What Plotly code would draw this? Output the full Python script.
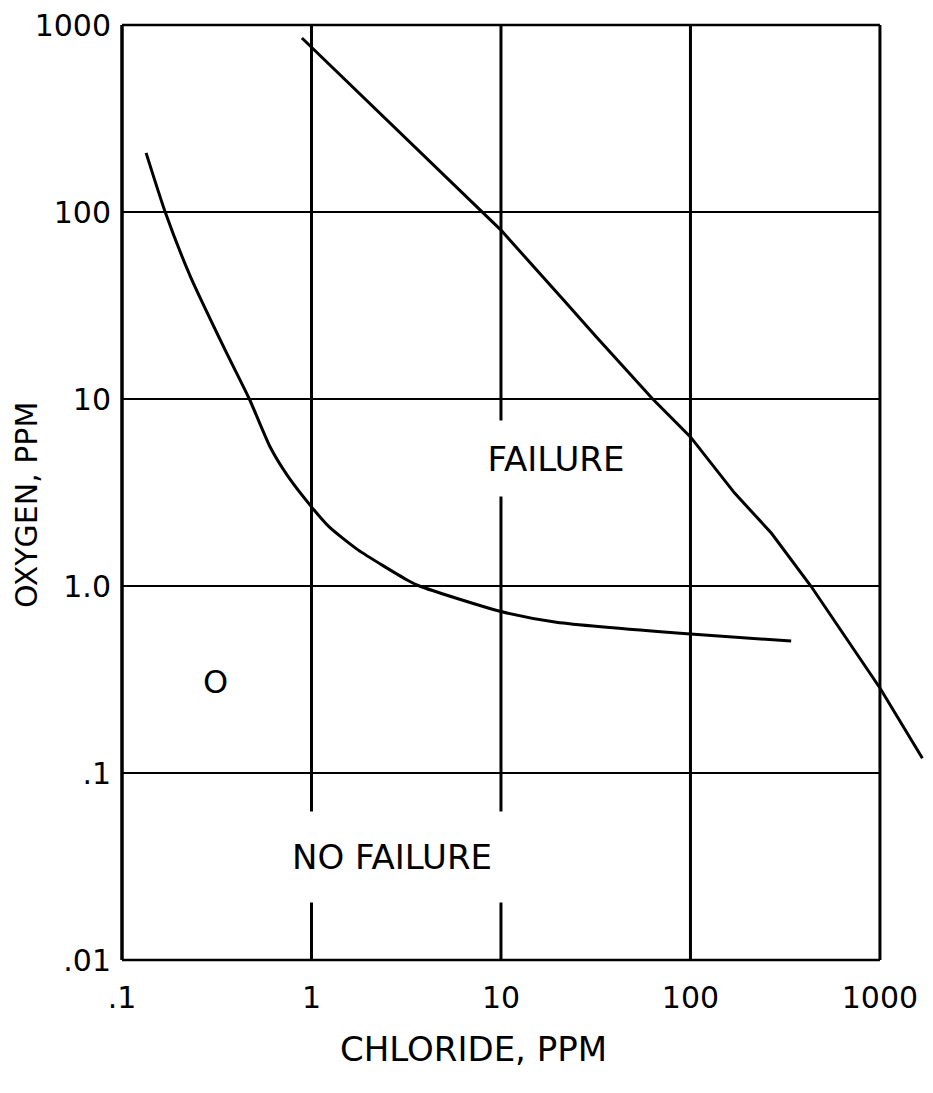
import plotly.graph_objects as go

# Data (log-log chart)
upper_x = [0.89, 8.0, 10, 21.4, 31.8, 63.2, 100, 171, 267, 432, 1000, 1675]
upper_y = [852, 100, 80, 33.8, 21.5, 10, 6.27, 3.14, 1.92, 1.0, 0.285, 0.12]

lower_x = [0.134, 0.169, 0.23, 0.35, 0.47, 0.607, 0.755, 1.0, 1.24, 1.76, 3.18, 3.71, 10, 19.6, 100, 340]
lower_y = [207, 100, 45, 18.3, 10, 5.5, 3.83, 2.65, 2.07, 1.56, 1.08, 1.0, 0.73, 0.64, 0.553, 0.508]

x_ticks = [0.1, 1, 10, 100, 1000]
x_tick_text = [".1", "1", "10", "100", "1000"]
y_ticks = [0.01, 0.1, 1, 10, 100, 1000]
y_tick_text = [".01", ".1", "1.0", "10", "100", "1000"]

x_grid = [1, 10, 100]
y_grid = [0.1, 1, 10, 100]

FONT = "DejaVu Sans"
X_RANGE = [-1, 3.28]
X_FRAME_RIGHT = (3 - X_RANGE[0]) / (X_RANGE[1] - X_RANGE[0])  # paper x of 1000

fig = go.Figure()
fig.add_trace(go.Scatter(x=upper_x, y=upper_y, mode="lines",
                         line=dict(color="black", width=3),
                         showlegend=False, hoverinfo="skip"))
fig.add_trace(go.Scatter(x=lower_x, y=lower_y, mode="lines",
                         line=dict(color="black", width=3, shape="spline", smoothing=0.6),
                         showlegend=False, hoverinfo="skip"))

shapes = []
for gx in x_grid:
    shapes.append(dict(type="line", xref="x", yref="y", x0=gx, x1=gx, y0=0.01, y1=1000,
                       line=dict(color="black", width=3), layer="below"))
for gy in y_grid:
    shapes.append(dict(type="line", xref="x", yref="y", x0=0.1, x1=1000, y0=gy, y1=gy,
                       line=dict(color="black", width=2), layer="below"))
# frame (paper refs so it is not clipped at the plot edge)
shapes.append(dict(type="line", xref="paper", yref="paper", x0=0, x1=0, y0=0, y1=1,
                   line=dict(color="black", width=3.5)))
shapes.append(dict(type="line", xref="paper", yref="paper", x0=X_FRAME_RIGHT, x1=X_FRAME_RIGHT,
                   y0=0, y1=1, line=dict(color="black", width=3)))
shapes.append(dict(type="line", xref="paper", yref="paper", x0=0, x1=X_FRAME_RIGHT, y0=1, y1=1,
                   line=dict(color="black", width=2.5)))
shapes.append(dict(type="line", xref="paper", yref="paper", x0=0, x1=X_FRAME_RIGHT, y0=0, y1=0,
                   line=dict(color="black", width=2.5)))

annotations = [
    dict(text="FAILURE", x=1.29, y=0.684, xref="x", yref="y", showarrow=False,
         xanchor="center", yanchor="middle",
         font=dict(family=FONT, size=34, color="black"), bgcolor="white",
         width=160, height=73),
    dict(text="NO FAILURE", x=0.425, y=-1.449, xref="x", yref="y", showarrow=False,
         xanchor="center", yanchor="middle",
         font=dict(family=FONT, size=34, color="black"), bgcolor="white",
         width=250, height=88),
    dict(text="O", x=-0.509, y=-0.513, xref="x", yref="y", showarrow=False,
         xanchor="center", yanchor="middle",
         font=dict(family=FONT, size=32, color="black")),
    dict(text="CHLORIDE, PPM", x=0.434, y=-0.0952, xref="paper", yref="paper",
         xanchor="center", yanchor="middle",
         showarrow=False, font=dict(family=FONT, size=34, color="black")),
    dict(text="OXYGEN, PPM", x=-0.1184, y=0.4866, xref="paper", yref="paper",
         xanchor="center", yanchor="middle",
         showarrow=False, textangle=-90, font=dict(family=FONT, size=30, color="black")),
]

# page body has an 8px default margin: size/margins compensate for it
fig.update_layout(
    width=925, height=1085,
    margin=dict(l=114, r=0, t=17, b=133, autoexpand=False),
    paper_bgcolor="white", plot_bgcolor="white",
    shapes=shapes, annotations=annotations,
    xaxis=dict(type="log", range=X_RANGE, showgrid=False, zeroline=False, showline=False,
               automargin=False, ticklabeloverflow="allow",
               tickvals=x_ticks, ticktext=x_tick_text, ticks="", ticklabelstandoff=17,
               tickfont=dict(family=FONT, size=30, color="black")),
    yaxis=dict(type="log", range=[-2, 3], showgrid=False, zeroline=False, showline=False,
               automargin=False, ticklabeloverflow="allow",
               tickvals=y_ticks, ticktext=y_tick_text, ticks="", ticklabelstandoff=10,
               tickfont=dict(family=FONT, size=30, color="black")),
)

fig.write_html("out.html")
